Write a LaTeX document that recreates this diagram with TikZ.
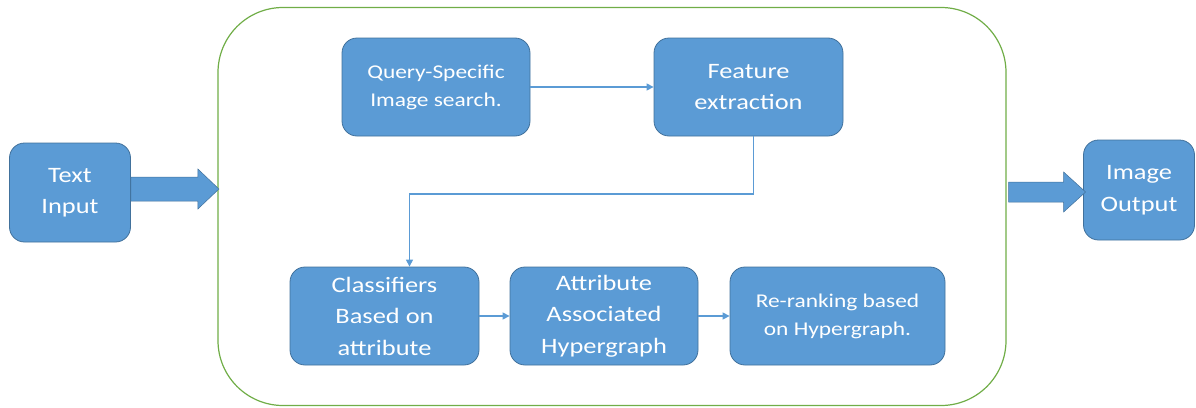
\documentclass[tikz,border=0pt]{standalone}
\usepackage{fontspec}
\setmainfont[FakeStretch=1.2]{Carlito}
\usetikzlibrary{arrows.meta,positioning}
\definecolor{boxblue}{HTML}{5B9BD5}
\definecolor{boxline}{HTML}{41719C}
\definecolor{framegreen}{HTML}{70AD47}
\tikzset{
    stage/.style={draw=boxline, line width=0.8pt, fill=boxblue, rounded corners=15pt,
        text=white, align=center, inner sep=0pt, minimum height=98pt,
        font=\fontsize{22}{31.5}\selectfont},
    smallstage/.style={stage, font=\fontsize{19.5}{28}\selectfont},
    flow/.style={draw=boxblue, line width=1.2pt, -{Triangle[length=7pt,width=7pt]}},
    bigarrow/.style={fill=boxblue, draw=boxline, line width=0.5pt}
}
\begin{document}
\begin{tikzpicture}[x=1pt,y=-1pt]
            \useasboundingbox (0,0) rectangle (1196,407);
            \def\Ytop{87}
            \def\Ybot{316}

            % outer frame
            \node[draw=framegreen, line width=1.2pt, rounded corners=65pt,
                minimum width=788pt, minimum height=398pt] (frame) at (612,206.5) {};

            \node[stage, minimum width=121pt, minimum height=99pt] (txt) at (70,192.5) {Text\\Input};
            \node[stage, minimum width=111pt, minimum height=100pt] (out) at (1139,190) {Image\\Output};

            \node[smallstage, minimum width=188pt] (query) at (436,\Ytop) {Query-Specific\\Image search.};
            \node[stage, minimum width=189pt] (feat) at (748.5,\Ytop) {Feature\\extraction};

            \node[stage, minimum width=189pt] (cls) at (384.5,\Ybot) {Classifiers\\Based on\\attribute};
            \node[stage, minimum width=188pt] (hyper) at (604,\Ybot) {Attribute\\Associated\\Hypergraph};
            \node[smallstage, minimum width=215pt] (rerank) at (837.5,\Ybot) {Re-ranking based\\on Hypergraph.};

            \coordinate (bend) at (409.5,194);

            \draw[flow] (query) -- (feat);
            \draw[flow] ([xshift=5pt]feat.south) |- (bend) -- ([xshift=25pt]cls.north);
            \draw[flow] (cls) -- (hyper);
            \draw[flow] (hyper) -- (rerank);

            % block arrows in and out
            \draw[bigarrow] (txt.east) ++(0,-15.5) -- ++(67,0) -- ++(0,-8)
                -- ++(21,20) -- ++(-21,20) -- ++(0,-8) -- ++(-67,0) -- cycle;
            \draw[bigarrow] (frame.east) ++(2,-24.5) -- ++(55,0) -- ++(0,-10)
                -- ++(22,20) -- ++(-22,20) -- ++(0,-10) -- ++(-55,0) -- cycle;
\end{tikzpicture}
\end{document}
